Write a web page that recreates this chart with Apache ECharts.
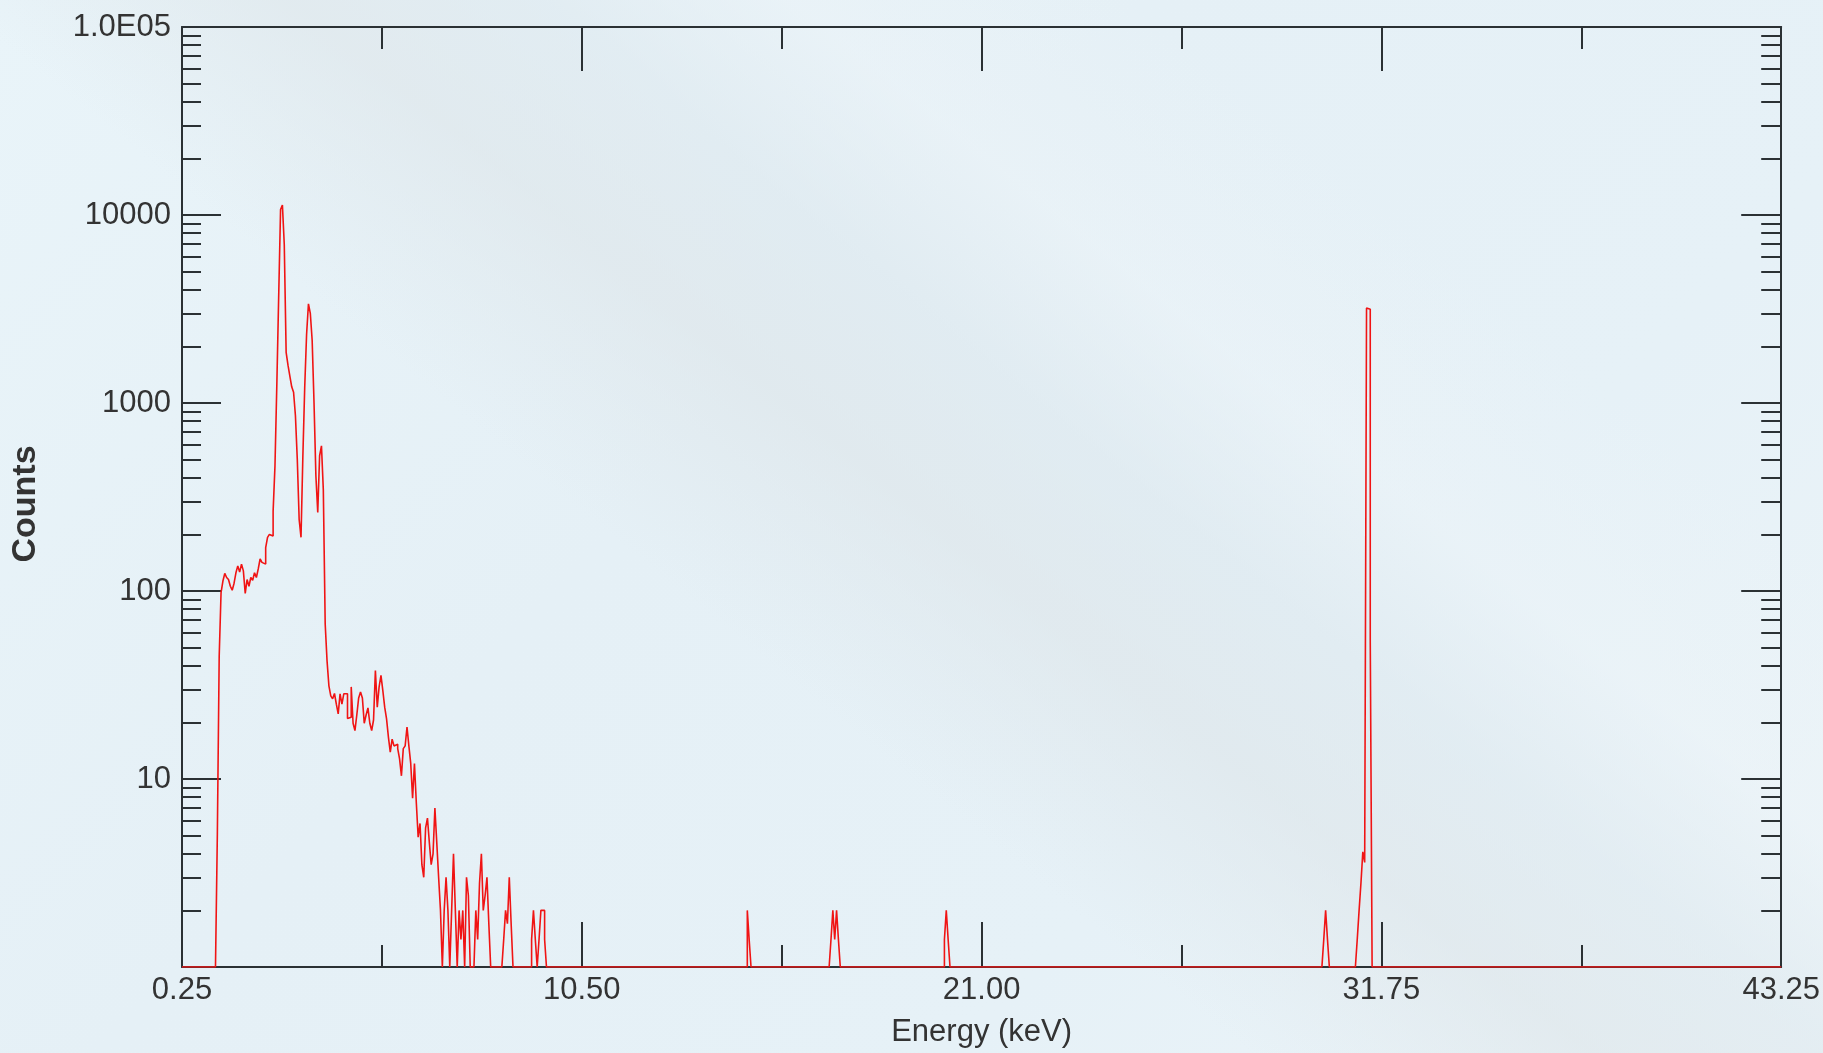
<!DOCTYPE html>
<html>
<head>
<meta charset="utf-8">
<title>Energy spectrum</title>
<script src="https://cdn.jsdelivr.net/npm/echarts@6/dist/echarts.min.js"></script>
<style>
  html, body { margin: 0; padding: 0; width: 1823px; height: 1053px; overflow: hidden; }
  body {
    background:
      linear-gradient(39deg,
        rgba(228,240,247,0) 0%,
        rgba(228,240,247,0) 40%,
        rgba(221,229,233,0.6) 51%,
        rgba(221,232,238,0.55) 59%,
        rgba(237,244,248,0.45) 67%,
        rgba(234,243,248,0) 78%,
        rgba(234,243,248,0) 100%),
      linear-gradient(135deg, #e9f4f9 0%, #e5f0f6 40%, #e6f1f7 70%, #ecf4f8 100%);
  }
  #chart { width: 1823px; height: 1053px; }
</style>
</head>
<body>
<div id="chart"></div>
<script>
// Tick labels of the energy axis, printed at the quarter marks of the window
const energyTickLabels = ['0.25', '10.50', '21.00', '31.75', '43.25'];
// Decade ticks of the counts axis and their printed text
const countTickValues = [10, 100, 1000, 10000, 100000];
const countTickLabels = ['10', '100', '1000', '10000', '1.0E05'];

const energyMin = 0.25;
const energyMax = 43.25;
const channelWidth = 0.05; // keV per channel

// Contiguous block of channel counts starting at 1.20 keV
const lowBandStart = 1.20;
const lowBandCounts = [
  5, 45, 98, 113, 124, 118, 115, 106, 101, 110,
  125, 136, 126, 139, 128, 97, 115, 106, 118, 114,
  125, 118, 131, 148, 142, 139, 170, 193, 200, 196,
  266, 463, 1257, 3720, 10700, 11300, 6950, 1860, 1590, 1390,
  1220, 1140, 856, 500, 240, 193, 524, 1220, 2320, 3370,
  3000, 2150, 1000, 410, 262, 524, 592, 344, 67, 42.5,
  31.3, 27.7, 26.7, 28.5, 25, 22.2, 28.4, 25, 28.4, 28.4,
  21, 21.3, 30.9, 19.8, 18.1, 21.9, 27, 29, 27, 19.8,
  21.9, 23.9, 19.8, 18.1, 20.6, 37.8, 24.1, 30.9, 35.6, 29.5,
  24.1, 20.9, 16.7, 13.9, 16.3, 15, 15.3, 14.5, 12.8, 10.4,
  14.5, 15, 18.9, 15, 12.1, 7.9, 12.1, 7.5, 4.9, 5.8,
  3.5, 3.0, 5.5, 6.2, 4.6, 3.5, 4, 7.0, 4.6, 3.0,
  2.0, 0, 2.0, 3.0, 2.0, 0, 2.0, 4.0, 2.0, 0,
  2.0, 1.4, 2.0, 0, 3.0, 2.4, 0, 0, 0, 2.0,
  1.4, 2.8, 4.0, 2.0, 2.4, 3.0, 1.7, 0, 0, 0,
  0, 0, 0, 0, 1.4, 2.0, 1.7, 3.0, 1.7, 0,
  0, 0, 0, 0, 0, 0, 0, 0, 0, 1.4,
  2.0, 1.4, 0, 1.4, 2.0, 2.0, 1.4
];

// Isolated lines further up: first channel energy of each group and its counts
const lineGroupStart = [15.45, 17.70, 20.75, 30.95, 31.85];
const lineGroupCounts = [
  [2, 1.4],
  [1.4, 2, 1.4, 2, 1.4],
  [1.4, 2, 1.4],
  [1.4, 2, 1.4],
  [1.4, 2, 2.8, 4.1, 3.6, 3200, 3150, 55]
];

// Assemble the full channel table; empty channels rest on the axis floor
const countFloor = 1;
const channelCount = Math.round((energyMax - energyMin) / channelWidth);
const channels = new Array(channelCount).fill(0);
function place(startKeV, values) {
  const first = Math.round((startKeV - energyMin) / channelWidth);
  values.forEach((v, j) => { channels[first + j] = v; });
}
place(lowBandStart, lowBandCounts);
lineGroupStart.forEach((e, g) => place(e, lineGroupCounts[g]));

const spectrum = channels.map((c, k) => [
  +(energyMin + k * channelWidth).toFixed(4),
  Math.max(c, countFloor)
]);
spectrum.push([energyMax, Math.max(channels[channelCount - 1], countFloor)]);

const ink = '#2b3134';
const labelFont = "'Liberation Sans', Arial, sans-serif";

function countLabel(v) {
  for (let i = 0; i < countTickValues.length; i++) {
    if (Math.abs(v - countTickValues[i]) / countTickValues[i] < 1e-6) return countTickLabels[i];
  }
  return '';
}

const frameAxis = {
  axisLine: { show: true, onZero: false, lineStyle: { color: ink, width: 2 } },
  splitLine: { show: false },
  minorSplitLine: { show: false }
};

const chart = echarts.init(document.getElementById('chart'), null, { renderer: 'canvas' });
chart.setOption({
  animation: false,
  backgroundColor: 'transparent',
  grid: { left: 182, right: 41, top: 27, bottom: 84, containLabel: false },
  graphic: [{
    type: 'text',
    x: 26,
    y: 504,
    rotation: Math.PI / 2,
    silent: true,
    style: {
      text: 'Counts',
      fill: '#333',
      font: "bold 34px 'Liberation Sans', Arial, sans-serif",
      align: 'center',
      verticalAlign: 'middle'
    }
  }],
  xAxis: [
    { type: 'value', min: energyMin, max: energyMax, show: false, position: 'bottom' },
    Object.assign({}, frameAxis, {
      type: 'value', min: 0, max: 4, interval: 1, position: 'bottom',
      axisTick: { show: true, inside: true, length: 45, lineStyle: { color: ink, width: 2 } },
      minorTick: { show: true, splitNumber: 2, length: 22, lineStyle: { color: ink, width: 2 } },
      axisLabel: {
        show: true, margin: 8, fontSize: 31, color: '#333', fontFamily: labelFont,
        formatter: v => energyTickLabels[Math.round(v)]
      },
      name: 'Energy (keV)', nameLocation: 'middle', nameGap: 50,
      nameTextStyle: { fontSize: 31, color: '#333', fontFamily: labelFont }
    }),
    Object.assign({}, frameAxis, {
      type: 'value', min: 0, max: 4, interval: 1, position: 'top',
      axisTick: { show: true, inside: true, length: 44, lineStyle: { color: ink, width: 2 } },
      minorTick: { show: true, splitNumber: 2, length: 22, lineStyle: { color: ink, width: 2 } },
      axisLabel: { show: false }
    })
  ],
  yAxis: [
    Object.assign({}, frameAxis, {
      type: 'log', logBase: 10, min: 1, max: 100000, position: 'left',
      axisTick: { show: true, inside: true, length: 39, lineStyle: { color: ink, width: 2 } },
      minorTick: { show: true, splitNumber: 9, length: 19, lineStyle: { color: ink, width: 2 } },
      axisLabel: {
        show: true, margin: 11, fontSize: 31, color: '#333', fontFamily: labelFont,
        formatter: countLabel
      }
    }),
    Object.assign({}, frameAxis, {
      type: 'log', logBase: 10, min: 1, max: 100000, position: 'right',
      axisTick: { show: true, inside: true, length: 40, lineStyle: { color: ink, width: 2 } },
      minorTick: { show: true, splitNumber: 9, length: 20, lineStyle: { color: ink, width: 2 } },
      axisLabel: { show: false }
    })
  ],
  series: [{
    type: 'line',
    xAxisIndex: 0,
    yAxisIndex: 0,
    step: 'end',
    showSymbol: false,
    symbol: 'none',
    clip: true,
    lineStyle: { color: '#f01414', width: 1.6 },
    data: spectrum,
    z: 5
  }]
});
</script>
</body>
</html>
